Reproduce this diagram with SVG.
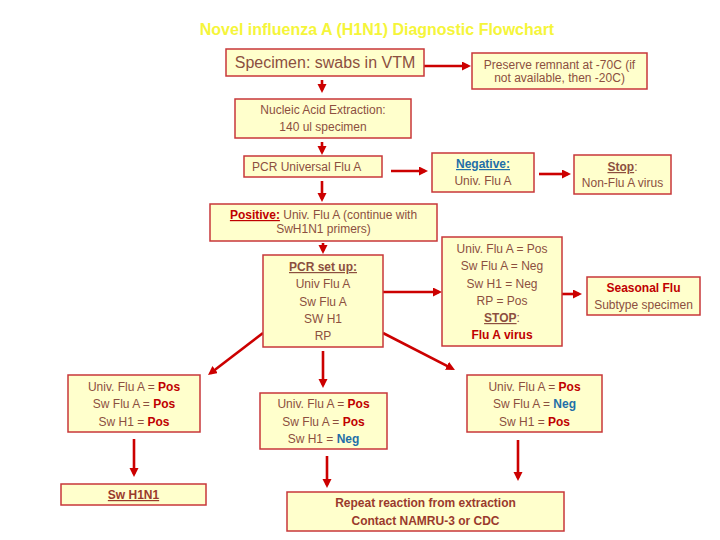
<svg xmlns="http://www.w3.org/2000/svg" width="720" height="540" viewBox="0 0 720 540">
<style>
.box{fill:#ffffcc;stroke:#c8373a;stroke-width:1.5}
text{font-family:"Liberation Sans",Arial,sans-serif;font-size:12px;fill:#8c4f3f;text-anchor:middle}
.b{font-weight:bold}
.u{text-decoration:underline}
.red{fill:#c00000;font-weight:bold}
.blue{fill:#1f6fa8;font-weight:bold}
.br{fill:#9a3a2c;font-weight:bold}
.ar{stroke:#cc0000;stroke-width:2.6;fill:none;marker-end:url(#ah)}
</style>
<defs>
<marker id="ah" markerUnits="userSpaceOnUse" markerWidth="10" markerHeight="10" refX="6" refY="4.5" orient="auto">
<path d="M0,0 L9,4.5 L0,9 z" fill="#cc0000"/>
</marker>
</defs>
<rect width="720" height="540" fill="#ffffff"/>
<text id="title" x="377" y="35" style="font-size:16px;font-weight:bold;fill:#f5f53a">Novel influenza A (H1N1) Diagnostic Flowchart</text>

<g id="connectors">
<path class="ar" d="M424,66 L468,66"/>
<path class="ar" d="M322,80 L322,90"/>
<path class="ar" d="M322,142 L322,152"/>
<path class="ar" d="M391,171 L425,171"/>
<path class="ar" d="M539,174 L568,174"/>
<path class="ar" d="M322,181 L322,199"/>
<path class="ar" d="M323,243 L323,251"/>
<path class="ar" d="M383,292 L439,292"/>
<path class="ar" d="M562,294 L579,294"/>
<path class="ar" d="M263,333 L210.4,373.2"/>
<path class="ar" d="M323,351 L323,385"/>
<path class="ar" d="M383,333 L452.3,368.6"/>
<path class="ar" d="M134,439 L134,474"/>
<path class="ar" d="M327,456 L327,485"/>
<path class="ar" d="M518,440 L518,478"/>
</g>

<g id="specimen">
<rect class="box" x="226" y="49" width="198" height="27"/>
<text x="325" y="68" style="font-size:16px">Specimen: swabs in VTM</text>
</g>
<g id="preserve">
<rect class="box" x="472" y="53" width="175" height="36"/>
<text x="559.5" y="69">Preserve remnant at -70C (if</text>
<text x="559.5" y="82">not available, then -20C)</text>
</g>
<g id="extraction">
<rect class="box" x="235" y="99" width="176" height="39"/>
<text x="323" y="114">Nucleic Acid Extraction:</text>
<text x="323" y="131">140 ul specimen</text>
</g>
<g id="pcr-universal">
<rect class="box" x="244" y="156" width="138" height="21"/>
<text x="252" y="171" style="text-anchor:start">PCR Universal Flu A</text>
</g>
<g id="negative">
<rect class="box" x="432" y="153" width="102" height="39"/>
<text x="483" y="168" class="blue u">Negative:</text>
<text x="483" y="185">Univ. Flu A</text>
</g>
<g id="stop-nonflu">
<rect class="box" x="574" y="155" width="97" height="39"/>
<text x="622.5" y="171"><tspan class="b u">Stop</tspan>:</text>
<text x="622.5" y="187">Non-Flu A virus</text>
</g>
<g id="positive">
<rect class="box" x="210" y="204" width="227" height="37"/>
<text x="323.5" y="219"><tspan class="red u">Positive:</tspan> Univ. Flu A (continue with</text>
<text x="323.5" y="233">SwH1N1 primers)</text>
</g>
<g id="pcr-setup">
<rect class="box" x="263" y="255" width="120" height="92"/>
<text x="323" y="271" class="b u">PCR set up:</text>
<text x="323" y="288">Univ Flu A</text>
<text x="323" y="306">Sw Flu A</text>
<text x="323" y="323">SW H1</text>
<text x="323" y="340">RP</text>
</g>
<g id="result-flua">
<rect class="box" x="442" y="237" width="120" height="109"/>
<text x="502" y="253">Univ. Flu A = Pos</text>
<text x="502" y="270">Sw Flu A = Neg</text>
<text x="502" y="288">Sw H1 = Neg</text>
<text x="502" y="305">RP = Pos</text>
<text x="502" y="322"><tspan class="b u">STOP</tspan>:</text>
<text x="502" y="339" class="red">Flu A virus</text>
</g>
<g id="seasonal">
<rect class="box" x="587" y="277" width="113" height="38"/>
<text x="643.5" y="292" class="red">Seasonal Flu</text>
<text x="643.5" y="309">Subtype specimen</text>
</g>
<g id="result-left">
<rect class="box" x="68" y="375" width="132" height="57"/>
<text x="134" y="391">Univ. Flu A = <tspan class="red">Pos</tspan></text>
<text x="134" y="408">Sw Flu A = <tspan class="red">Pos</tspan></text>
<text x="134" y="426">Sw H1 = <tspan class="red">Pos</tspan></text>
</g>
<g id="result-middle">
<rect class="box" x="260" y="393" width="127" height="56"/>
<text x="323.5" y="408">Univ. Flu A = <tspan class="red">Pos</tspan></text>
<text x="323.5" y="426">Sw Flu A = <tspan class="red">Pos</tspan></text>
<text x="323.5" y="443">Sw H1 = <tspan class="blue">Neg</tspan></text>
</g>
<g id="result-right">
<rect class="box" x="467" y="375" width="135" height="57"/>
<text x="534.5" y="391">Univ. Flu A = <tspan class="red">Pos</tspan></text>
<text x="534.5" y="408">Sw Flu A = <tspan class="blue">Neg</tspan></text>
<text x="534.5" y="426">Sw H1 = <tspan class="red">Pos</tspan></text>
</g>
<g id="sw-h1n1">
<rect class="box" x="61" y="484" width="145" height="21"/>
<text x="133.5" y="499" class="br u">Sw H1N1</text>
</g>
<g id="repeat">
<rect class="box" x="287" y="492" width="277" height="39"/>
<text x="425.5" y="507" class="br">Repeat reaction from extraction</text>
<text x="425.5" y="525" class="br">Contact NAMRU-3 or CDC</text>
</g>
</svg>
